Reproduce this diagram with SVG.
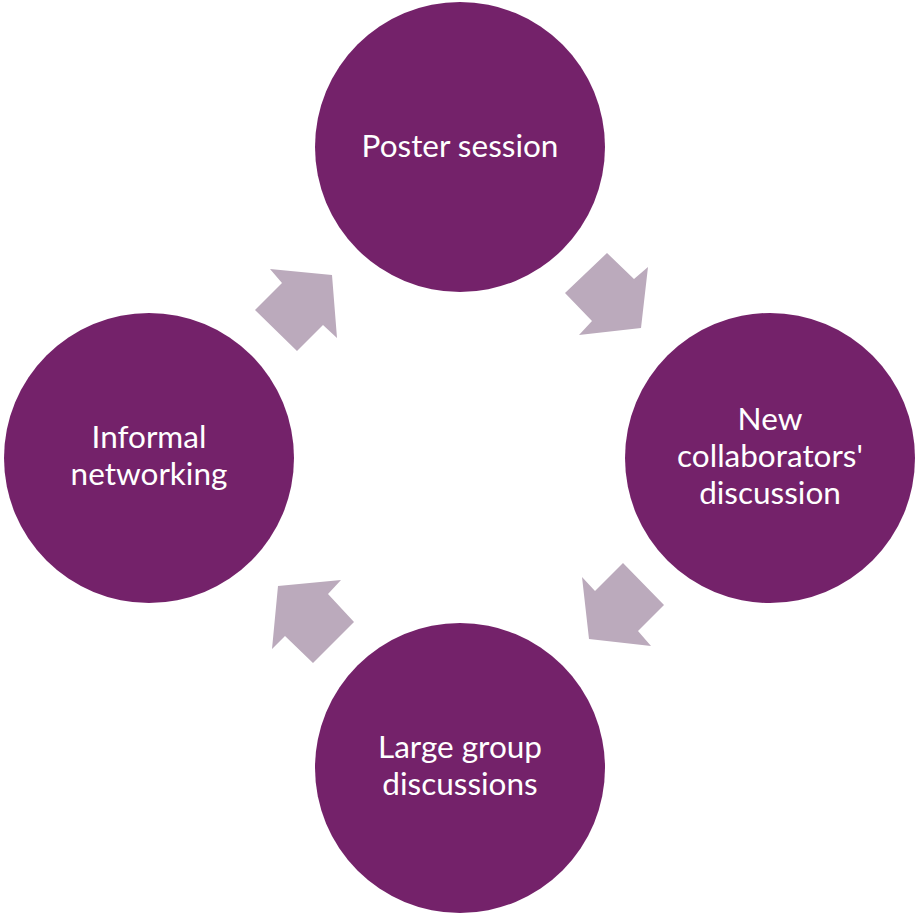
<svg xmlns="http://www.w3.org/2000/svg" width="916" height="916" viewBox="0 0 916 916">
<style>
.node{fill:#74226A}
.lbl{fill:#FFFFFF;font-family:Lato,"Open Sans","Liberation Sans",sans-serif;font-size:31.5px;text-anchor:middle}
.arr{fill:#BBAABC}
</style>
<rect width="916" height="916" fill="#FFFFFF"/>
<g id="connectors">
<polygon class="arr" points="270,269 332,275 337,338 323,325 297,351 255,310 282,283"/>
<polygon class="arr" points="607,253 634,279 648,267 641,328 579,335 592,321 565,293"/>
<polygon class="arr" points="623,563 664,605 638,631 651,646 589,639 582,577 595,591"/>
<polygon class="arr" points="341,580 328,594 354,622 313,663 285,636 272,649 278,586"/>
</g>
<g id="poster">
<circle class="node" cx="460" cy="147" r="145"/>
<text class="lbl" x="460" y="157">Poster session</text>
</g>
<g id="collab">
<circle class="node" cx="770" cy="458" r="145"/>
<text class="lbl" x="770" y="430">New</text>
<text class="lbl" x="770" y="467">collaborators'</text>
<text class="lbl" x="770" y="504">discussion</text>
</g>
<g id="large">
<circle class="node" cx="460" cy="768" r="145"/>
<text class="lbl" x="460" y="758">Large group</text>
<text class="lbl" x="460" y="795">discussions</text>
</g>
<g id="informal">
<circle class="node" cx="149" cy="458" r="145"/>
<text class="lbl" x="149" y="448">Informal</text>
<text class="lbl" x="149" y="485">networking</text>
</g>
</svg>
